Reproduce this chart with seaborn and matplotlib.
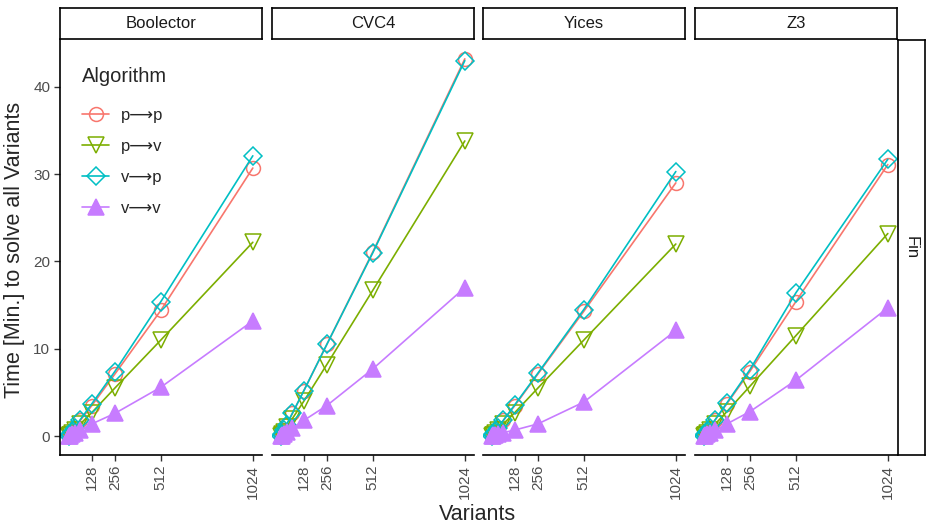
import pandas as pd
import seaborn as sns
import matplotlib.pyplot as plt

sns.set_style("white")
plt.rcParams['font.family'] = ['Liberation Sans', 'DejaVu Sans']

variants = [2, 4, 8, 16, 32, 64, 128, 256, 512, 1024]
solvers = ["Boolector", "CVC4", "Yices", "Z3"]
algorithms = ["p\u27f6p", "p\u27f6v", "v\u27f6p", "v\u27f6v"]

boolector_pp = [0.05, 0.1, 0.2, 0.45, 0.9, 1.8, 3.5, 7.1, 14.4, 30.7]
boolector_pv = [0.05, 0.08, 0.15, 0.35, 0.7, 1.4, 2.7, 5.5, 11.0, 22.2]
boolector_vp = [0.05, 0.1, 0.22, 0.48, 0.95, 1.9, 3.7, 7.4, 15.4, 32.1]
boolector_vv = [0.03, 0.05, 0.1, 0.2, 0.35, 0.7, 1.4, 2.6, 5.6, 13.2]

cvc4_pp = [0.07, 0.14, 0.3, 0.65, 1.3, 2.6, 5.2, 10.5, 21.1, 43.2]
cvc4_pv = [0.05, 0.1, 0.25, 0.5, 1.0, 2.0, 4.0, 8.2, 16.7, 33.8]
cvc4_vp = [0.07, 0.14, 0.3, 0.65, 1.3, 2.6, 5.2, 10.5, 21.0, 43.0]
cvc4_vv = [0.03, 0.06, 0.12, 0.25, 0.5, 0.9, 1.8, 3.5, 7.7, 17.0]

yices_pp = [0.05, 0.1, 0.2, 0.45, 0.9, 1.8, 3.5, 7.1, 14.3, 29.0]
yices_pv = [0.05, 0.08, 0.15, 0.35, 0.7, 1.4, 2.7, 5.5, 11.0, 22.0]
yices_vp = [0.05, 0.1, 0.22, 0.47, 0.9, 1.8, 3.6, 7.2, 14.5, 30.3]
yices_vv = [0.02, 0.04, 0.08, 0.15, 0.25, 0.4, 0.7, 1.4, 3.9, 12.1]

z3_pp = [0.05, 0.1, 0.22, 0.47, 0.95, 1.9, 3.7, 7.4, 15.4, 31.1]
z3_pv = [0.05, 0.08, 0.17, 0.37, 0.72, 1.4, 2.8, 5.7, 11.5, 23.2]
z3_vp = [0.05, 0.1, 0.23, 0.5, 0.98, 1.9, 3.8, 7.6, 16.4, 31.7]
z3_vv = [0.03, 0.05, 0.1, 0.2, 0.38, 0.7, 1.4, 2.8, 6.4, 14.7]

times = {
    "Boolector": [boolector_pp, boolector_pv, boolector_vp, boolector_vv],
    "CVC4": [cvc4_pp, cvc4_pv, cvc4_vp, cvc4_vv],
    "Yices": [yices_pp, yices_pv, yices_vp, yices_vv],
    "Z3": [z3_pp, z3_pv, z3_vp, z3_vv],
}

rows = []
for s in solvers:
    for a, vals in zip(algorithms, times[s]):
        for v, t in zip(variants, vals):
            rows.append({"Solver": s, "Algorithm": a, "Variants": v, "Time": t})
df = pd.DataFrame(rows)

colors = ["#F8766D", "#7CAE00", "#00BFC4", "#C77CFF"]
markers = ["o", "v", "D", "^"]
filled = [False, False, False, True]
msizes = [10, 11, 9, 11]

W, H = 928, 527
fig = plt.figure(figsize=(9.28, 5.27), dpi=100)

lefts = [60, 272, 483, 695]
pw = 202
top, bottom = 40, 455

def fbox(x0, y0, x1, y1):
    return [x0 / W, 1 - y1 / H, (x1 - x0) / W, (y1 - y0) / H]

def strip_axes(box):
    st = fig.add_axes(box)
    st.set_xticks([])
    st.set_yticks([])
    for sp in st.spines.values():
        sp.set_visible(True)
        sp.set_linewidth(1.2)
        sp.set_color("black")
    return st

axes = []
for i, s in enumerate(solvers):
    ax = fig.add_axes(fbox(lefts[i], top, lefts[i] + pw, bottom))
    sub = df[df["Solver"] == s]
    for a, c, m, f, ms in zip(algorithms, colors, markers, filled, msizes):
        d = sub[sub["Algorithm"] == a]
        sns.lineplot(data=d, x="Variants", y="Time", ax=ax, color=c, marker=m,
                     markersize=ms, markerfacecolor=c if f else "none",
                     markeredgecolor=c, markeredgewidth=1.1, linewidth=1.2,
                     label=a, legend=False)
    ax.set_xlim(-49.1, 1075.1)
    ax.set_ylim(-2.16, 45.36)
    ax.set_xticks([128, 256, 512, 1024])
    ax.set_xticklabels(["128", "256", "512", "1024"], rotation=90)
    ax.set_yticks([0, 10, 20, 30, 40])
    ax.set_xlabel("")
    ax.set_ylabel("")
    for sp in ["top", "right"]:
        ax.spines[sp].set_visible(False)
    ax.spines["bottom"].set_linewidth(1.2)
    ax.spines["bottom"].set_color("black")
    ax.tick_params(axis="x", length=4, width=1, color="#333333",
                   labelsize=11, labelcolor="#4D4D4D", pad=3, bottom=True)
    if i == 0:
        ax.spines["left"].set_linewidth(1.2)
        ax.spines["left"].set_color("black")
        ax.tick_params(axis="y", length=4, width=1, color="#333333",
                       labelsize=11, labelcolor="#4D4D4D", pad=3, left=True)
    else:
        ax.spines["left"].set_visible(False)
        ax.tick_params(axis="y", left=False, labelleft=False)
    axes.append(ax)

    st = strip_axes(fbox(lefts[i], 8, lefts[i] + pw, 39))
    st.text(0.5, 0.5, s, ha="center", va="center", fontsize=12, color="#1A1A1A")

fs = strip_axes(fbox(898, top, 925, bottom))
fs.text(0.5, 0.5, "Fin", ha="center", va="center", rotation=-90, fontsize=12,
        color="#1A1A1A")

handles, labels = axes[0].get_legend_handles_labels()
leg = axes[0].legend(handles, labels, title="Algorithm", loc="upper left",
                     bbox_to_anchor=(0.11, 0.935), frameon=False, fontsize=12,
                     title_fontsize=14.5, labelspacing=0.95, handlelength=1.6,
                     handletextpad=0.7, borderaxespad=0, borderpad=0)
leg._legend_box.align = "left"
leg._legend_box.sep = 16

fig.text(477 / W, 1 - 514 / H, "Variants", ha="center", va="center", fontsize=15.5)
fig.text(15 / W, 1 - 250 / H, "Time [Min.] to solve all Variants", ha="center",
         va="center", rotation=90, fontsize=15.5)

fig.savefig("out.png", dpi=100)
